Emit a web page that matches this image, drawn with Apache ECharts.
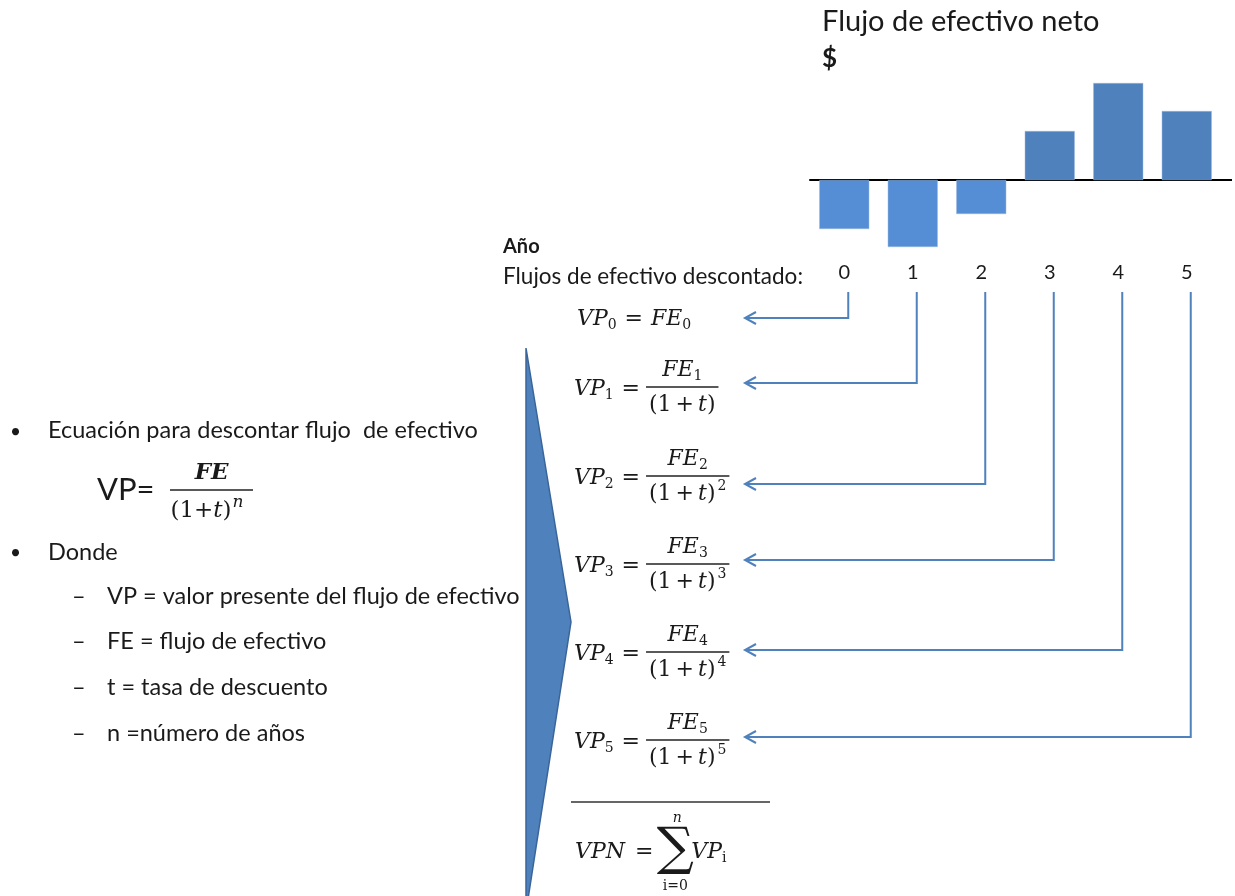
<!DOCTYPE html>
<html>
<head>
<meta charset="utf-8">
<script src="https://cdn.jsdelivr.net/npm/echarts@6/dist/echarts.min.js"></script>
<style>
  html, body { margin: 0; padding: 0; background: #ffffff; }
  #chart { width: 1235px; height: 896px; }
</style>
</head>
<body>
<div id="chart"></div>
<script>
// Years and net cash flow per year (arbitrary $ units)
const years = ['0', '1', '2', '3', '4', '5'];
const netFlows = [-49, -67, -34, 49, 97, 69];

const chartTitle = 'Flujo de efectivo neto';
const unitLabel = '$';
const yearLabel = 'Año';
const discountedLabel = 'Flujos de efectivo descontado:';

const bulletItems = ['Ecuación para descontar flujo  de efectivo', 'Donde'];
const dashItems = [
  'VP = valor presente del flujo de efectivo',
  'FE = flujo de efectivo',
  't = tasa de descuento',
  'n =número de años'
];

const TEXT = '#1a1a1a';
const BLUE = '#4F81BD';
const BLUE_LIGHT = '#558ED5';
const SANS = 'Lato';
const SERIF = '"DejaVu Serif"';

const chart = echarts.init(document.getElementById('chart'), null, { renderer: 'canvas' });

// text measuring for inline math layout
const mctx = document.createElement('canvas').getContext('2d');
function measure(t, font) { mctx.font = font; return mctx.measureText(t).width; }

function txt(x, y, t, font, opts) {
  opts = opts || {};
  return {
    type: 'text', x: x, y: y, z: 10,
    style: {
      text: t, font: font, fill: opts.fill || TEXT,
      textAlign: opts.align || 'left', textVerticalAlign: 'middle'
    }
  };
}

function line(x1, y1, x2, y2, color, w) {
  return { type: 'line', z: 5, shape: { x1: x1, y1: y1, x2: x2, y2: y2 },
           style: { stroke: color, lineWidth: w } };
}

// inline math: parts are [text, kind] or a number (gap in px)
// kind: i italic, r roman, s subscript, p superscript, q italic superscript
function mathFonts(size) {
  const sub = Math.round(size * 0.64);
  return {
    i: 'italic ' + size + 'px ' + SERIF,
    r: size + 'px ' + SERIF,
    s: sub + 'px ' + SERIF,
    p: sub + 'px ' + SERIF,
    q: 'italic ' + Math.round(size * 0.72) + 'px ' + SERIF
  };
}
function inlineMath(x, y, parts, align, size) {
  size = size || 21;
  const fonts = mathFonts(size);
  const widths = parts.map(function (p) {
    return typeof p === 'number' ? p : measure(p[0], fonts[p[1]]);
  });
  const total = widths.reduce(function (a, b) { return a + b; }, 0);
  let cx = align === 'center' ? x - total / 2 : (align === 'right' ? x - total : x);
  const els = [];
  parts.forEach(function (p, k) {
    if (typeof p !== 'number') {
      let dy = 0;
      if (p[1] === 's') dy = size * 0.28;
      if (p[1] === 'p' || p[1] === 'q') dy = -size * 0.36;
      els.push(txt(cx, y + dy, p[0], fonts[p[1]]));
    }
    cx += widths[k];
  });
  return { els: els, width: total };
}
function partsWidth(parts, size) {
  const fonts = mathFonts(size || 21);
  let w = 0;
  parts.forEach(function (p) { w += typeof p === 'number' ? p : measure(p[0], fonts[p[1]]); });
  return w;
}

const graphics = [];

// chevron pointing at the discounted values
graphics.push({
  type: 'polygon', z: 1,
  shape: { points: [[526, 348], [571, 622], [526, 912]] },
  style: { fill: BLUE, stroke: '#3A6599', lineWidth: 1.5 }
});

// headings above the bars
graphics.push(txt(822, 22, chartTitle, '29px ' + SANS));
graphics.push(txt(822, 59, unitLabel, 'bold 26px ' + SANS));
graphics.push(txt(503, 247, yearLabel, 'bold 20px ' + SANS));
graphics.push(txt(503, 277, discountedLabel, '22.5px ' + SANS));

// left-side bullets
const LIST_FONT = '23.5px ' + SANS;
graphics.push(txt(10, 432, '•', '19px ' + SANS));
graphics.push(txt(48, 430, bulletItems[0], LIST_FONT));
graphics.push(txt(10, 553, '•', '19px ' + SANS));
graphics.push(txt(48, 552, bulletItems[1], LIST_FONT));
const dashY = [596, 641, 687, 733];
dashItems.forEach(function (d, k) {
  graphics.push(txt(72, dashY[k], '–', LIST_FONT));
  graphics.push(txt(107, dashY[k], d, LIST_FONT));
});

// general discount formula
graphics.push(txt(97, 490, 'VP=', '31px ' + SANS));
graphics.push(line(170, 490, 253, 490, '#222', 1.5));
inlineMath(211, 473, [['FE', 'i']], 'center', 23).els.forEach(function (e) {
  e.style.font = 'bold italic 23px ' + SERIF; graphics.push(e);
});
inlineMath(207, 511, [['(1+', 'r'], ['t', 'i'], [')', 'r'], 1, ['n', 'q']], 'center', 23).els.forEach(function (e) { graphics.push(e); });

// discounted flow rows
const rowY = [318, 387, 476, 564, 652, 740];
inlineMath(577, rowY[0] + 1, [['VP', 'i'], ['0', 's'], 8, ['=', 'r'], 8, ['FE', 'i'], ['0', 's']], 'left', 22).els.forEach(function (e) { graphics.push(e); });
for (let k = 1; k < years.length; k++) {
  const y = rowY[k];
  const lhsParts = [['VP', 'i'], [String(k), 's'], 8, ['=', 'r']];
  const lhs = inlineMath(574, y + 2, lhsParts, 'left', 22);
  lhs.els.forEach(function (e) { graphics.push(e); });
  const denParts = [['(1', 'r'], 4, ['+', 'r'], 4, ['t', 'i'], [')', 'r']];
  if (k > 1) denParts.push(2, [String(k), 'p']);
  const numParts = [['FE', 'i'], [String(k), 's']];
  const fw = Math.max(partsWidth(numParts, 22), partsWidth(denParts, 22)) + 6;
  const fx = 574 + lhs.width + 6;
  const cx = fx + fw / 2;
  graphics.push(line(fx, y, fx + fw, y, '#222', 1.5));
  inlineMath(cx, y - 17, numParts, 'center', 22).els.forEach(function (e) { graphics.push(e); });
  inlineMath(cx, y + 18, denParts, 'center', 22).els.forEach(function (e) { graphics.push(e); });
}

// net present value sum
graphics.push(line(571, 802, 770, 802, '#333', 1.5));
const vpn = inlineMath(575, 852, [['VPN', 'i'], 10, ['=', 'r']], 'left', 22);
vpn.els.forEach(function (e) { graphics.push(e); });
const sigX = 575 + vpn.width + 22;
graphics.push(txt(sigX, 850, '∑', '52px ' + SERIF, { align: 'center' }));
graphics.push(txt(sigX + 2, 818, 'n', 'italic 14px ' + SERIF, { align: 'center' }));
graphics.push(txt(sigX, 886, 'i=0', '14px ' + SERIF, { align: 'center' }));
inlineMath(sigX + 16, 852, [['VP', 'i'], ['i', 's']], 'left', 22).els.forEach(function (e) { graphics.push(e); });

chart.setOption({
  animation: false,
  backgroundColor: '#ffffff',
  grid: { left: 810, top: 80, width: 411, height: 175, containLabel: false },
  xAxis: {
    type: 'category',
    data: years,
    axisLine: { show: true, onZero: true, lineStyle: { color: '#000', width: 2 } },
    axisTick: { show: false },
    axisLabel: { margin: 8, fontSize: 20, fontFamily: SANS, color: TEXT },
    splitLine: { show: false }
  },
  yAxis: {
    type: 'value', min: -75, max: 100,
    show: false, splitLine: { show: false }
  },
  series: [{
    type: 'bar',
    data: netFlows,
    barWidth: 50,
    itemStyle: {
      color: function (p) { return p.value < 0 ? BLUE_LIGHT : BLUE; },
      borderColor: '#9DB9DE', borderWidth: 0.5
    }
  }],
  graphic: graphics
});

// connectors from each year down to its discounted value, plus axis extension
const zeroY = chart.convertToPixel({ yAxisIndex: 0 }, 0);
const extra = [line(1221, zeroY, 1232, zeroY, '#000', 2)];
const tipX = 745;
const arrowY = [318, 383, 484, 560, 650, 737];
years.forEach(function (yr, k) {
  const px = chart.convertToPixel({ xAxisIndex: 0 }, yr) + 4;
  const ty = arrowY[k];
  extra.push({
    type: 'polyline', z: 4,
    shape: { points: [[px, 292], [px, ty], [tipX, ty]] },
    style: { stroke: BLUE, lineWidth: 2, fill: null }
  });
  extra.push({
    type: 'polyline', z: 4,
    shape: { points: [[tipX + 11, ty - 6], [tipX, ty], [tipX + 11, ty + 6]] },
    style: { stroke: BLUE, lineWidth: 2, fill: null }
  });
});
chart.setOption({ graphic: graphics.concat(extra) });
</script>
</body>
</html>
